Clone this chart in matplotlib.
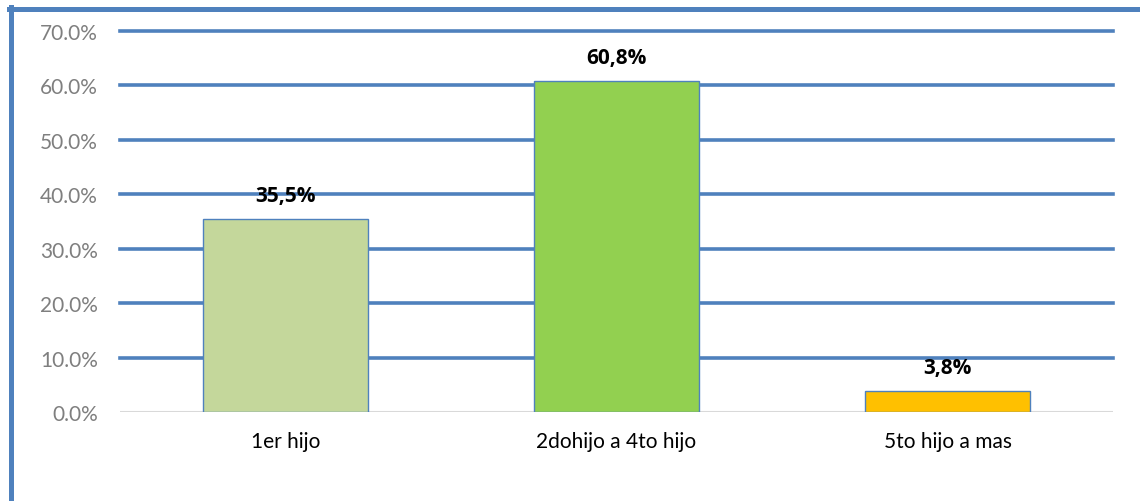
import matplotlib
matplotlib.use("Agg")
import matplotlib.pyplot as plt
from matplotlib.lines import Line2D

categories = ["1er hijo", "2dohijo a 4to hijo", "5to hijo a mas"]
values = [35.5, 60.8, 3.8]
labels = ["35,5%", "60,8%", "3,8%"]
colors = ["#C4D79B", "#92D050", "#FFC000"]
ticks = [0, 10, 20, 30, 40, 50, 60, 70]

plt.rcParams['font.family'] = ['Lato', 'DejaVu Sans']
blue = "#4F81BD"

fig = plt.figure(figsize=(11.4, 5.02), dpi=100)
ax = fig.add_axes([120/1140, 89/502, 993/1140, 381/502])

x = range(len(categories))
ax.bar(x, values, width=0.5, color=colors, edgecolor=blue, linewidth=1.0, zorder=3)
ax.set_xlim(-0.5, 2.5)
ax.set_ylim(0, 70)

for t in ticks[1:]:
    ax.axhline(t, color=blue, lw=2.6, zorder=1, clip_on=False)
ax.axhline(0, color="#D9D9D9", lw=1.5, zorder=2)

for i, v in enumerate(values):
    ax.annotate(labels[i], (i, v), xytext=(0, 17), textcoords="offset points",
                ha="center", va="center", fontsize=15, fontweight="bold",
                family=["Open Sans", "DejaVu Sans"], color="black", zorder=5)

ax.set_yticks(ticks)
ax.set_yticklabels(["%.1f%%" % t for t in ticks], color="#7F7F7F", fontsize=15)
ax.set_xticks(list(x))
ax.set_xticklabels(categories, fontsize=15, color="black")
ax.tick_params(axis="y", length=0, pad=16)
ax.tick_params(axis="x", length=0, pad=14)
for s in ax.spines.values():
    s.set_visible(False)

# outer frame (left and top edges visible)
fig.add_artist(Line2D([11/1140, 11/1140], [0, 1 - 8/502], transform=fig.transFigure, color=blue, lw=3.6))
fig.add_artist(Line2D([9/1140, 1], [1 - 10/502, 1 - 10/502], transform=fig.transFigure, color=blue, lw=3.6))

fig.savefig("out.png", dpi=100)
